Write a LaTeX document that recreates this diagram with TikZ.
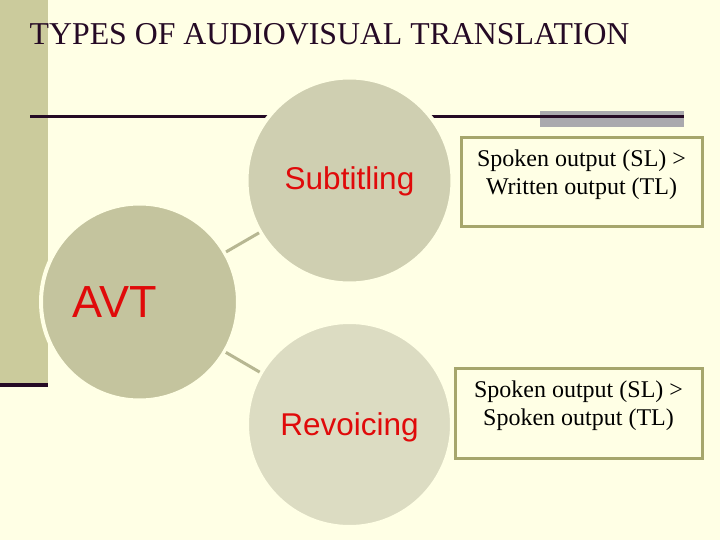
\documentclass[tikz,border=0pt]{standalone}
\usepackage{fontspec}
\setmainfont{Liberation Serif}
\setsansfont{Liberation Sans}
\usetikzlibrary{positioning}

\definecolor{slidebg}{HTML}{FFFFE5}
\definecolor{sidebar}{HTML}{CBCB9C}
\definecolor{inkdark}{HTML}{250A25}
\definecolor{greybar}{HTML}{AAA9AE}
\definecolor{avtfill}{HTML}{C4C49E}
\definecolor{subfill}{HTML}{CFCFB1}
\definecolor{revfill}{HTML}{DCDCC2}
\definecolor{linkgrey}{HTML}{B7B792}
\definecolor{boxedge}{HTML}{A6A66C}
\definecolor{avtred}{HTML}{E00A0A}

\begin{document}
\begin{tikzpicture}[
    x=1pt, y=-1pt,
    bubble/.style={circle, draw=slidebg, line width=4pt, outer sep=1.5pt, inner sep=0pt},
    bubbletext/.style={font=\sffamily\fontsize{31.5}{36}\selectfont, text=avtred},
    box/.style={draw=boxedge, line width=3pt, align=center, inner sep=0pt, text depth=20pt,
        font=\fontsize{24}{28}\selectfont},
    line/.style={draw=linkgrey, line width=3pt}
]
    \useasboundingbox[fill=slidebg] (0,0) rectangle (720,540);

    % slide decoration
    \fill[sidebar] (0,0) rectangle (48,383);
    \fill[inkdark] (0,383) rectangle (48,387);
    \fill[greybar] (540,111) rectangle (684,127);
    \draw[inkdark, line width=3pt] (30,116.5) -- (684,116.5);

    \node[anchor=base west, inner sep=0pt, text=inkdark, font=\fontsize{31.8}{36}\selectfont]
        (title) at (29.5,44.3) {TYPES OF AUDIOVISUAL TRANSLATION};

    % circles
    \node[bubble, fill=avtfill, minimum size=197pt,
        label={[bubbletext, font=\sffamily\fontsize{45}{50}\selectfont, xshift=-24.5pt]center:AVT}]
        (avt) at (139.5,302) {};
    \node[bubble, fill=subfill, minimum size=206pt,
        label={[bubbletext, yshift=-1pt]center:Subtitling}]
        (sub) at (349.5,180.5) {};
    \node[bubble, fill=revfill, minimum size=205pt,
        label={[bubbletext, yshift=-3pt]center:Revoicing}]
        (rev) at (349.5,424.5) {};

    \draw[line] (avt) -- (sub);
    \draw[line] (avt) -- (rev);

    % descriptions
    \node[box, minimum width=241pt, minimum height=89pt] (written) at (581.5,182.5)
        {Spoken output (SL) >\\Written output (TL)};
    \node[box, minimum width=247pt, minimum height=90pt] (spoken) at (578.5,413)
        {Spoken output (SL) >\\Spoken output (TL)};
\end{tikzpicture}
\end{document}
